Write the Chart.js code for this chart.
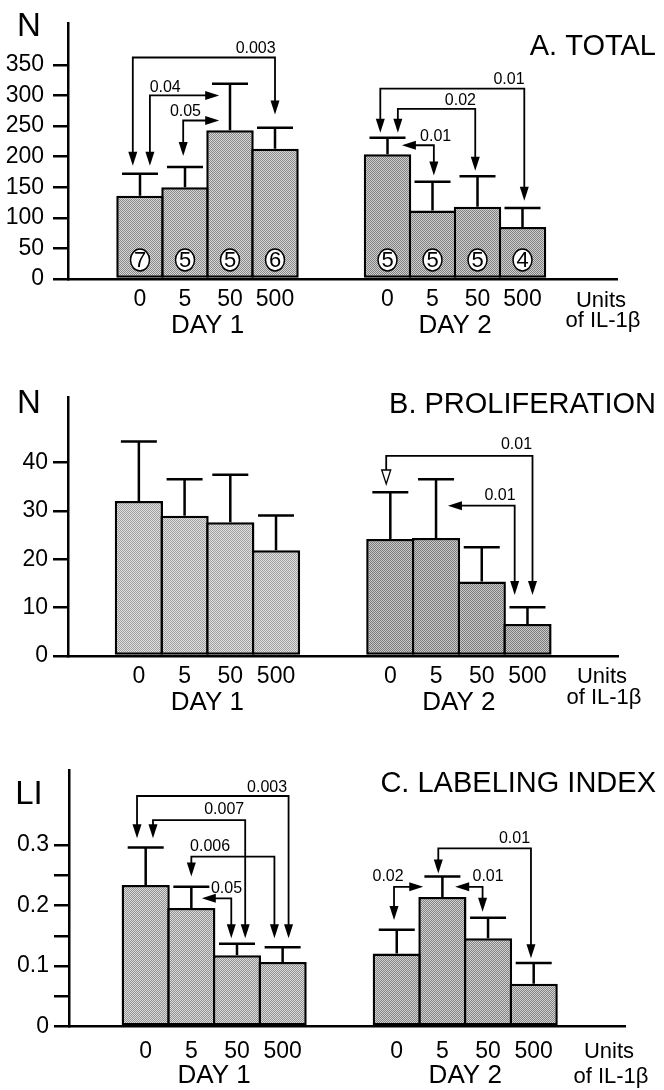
<!DOCTYPE html>
<html>
<head>
<meta charset="utf-8">
<script src="https://cdn.jsdelivr.net/npm/chart.js"></script>
<style>
  html, body { margin: 0; padding: 0; background: #fff; }
  canvas { display: block; }
</style>
</head>
<body>
<canvas id="chartA" width="664" height="340"></canvas>
<canvas id="chartB" width="664" height="375"></canvas>
<canvas id="chartC" width="664" height="375"></canvas>
<script>
// IL-1β dose groups (same for every panel)
const doses = ['0', '5', '50', '500'];
const days  = ['DAY 1', 'DAY 2'];

// A. total cells
const totalDay1    = [136, 150, 243, 213];
const totalDay1Err = [36, 33, 76, 34];
const totalDay2    = [204, 112, 118, 85];
const totalDay2Err = [27, 47, 50, 31];
const totalDay1N   = [7, 5, 5, 6];
const totalDay2N   = [5, 5, 5, 4];
const totalTicks   = [0, 50, 100, 150, 200, 250, 300, 350];

// B. proliferation
const prolDay1    = [32.1, 29.0, 27.7, 21.9];
const prolDay1Err = [12.3, 7.6, 9.8, 7.2];
const prolDay2    = [24.2, 24.4, 15.4, 6.6];
const prolDay2Err = [9.7, 12.2, 7.1, 3.5];
const prolTicks   = [0, 10, 20, 30, 40];

// C. labeling index
const liDay1    = [0.234, 0.196, 0.118, 0.107];
const liDay1Err = [0.062, 0.035, 0.019, 0.024];
const liDay2    = [0.121, 0.214, 0.146, 0.071];
const liDay2Err = [0.039, 0.034, 0.034, 0.034];
const liTicks      = [0, 0.05, 0.1, 0.15, 0.2, 0.25, 0.3];
const liTickLabels = ['0', '', '0.1', '', '0.2', '', '0.3'];

// p-value brackets, in data units (x = group slot, y = axis value)
const totalBrackets = [
  { p: '0.003', at: [2.57, 377],  path: [[-0.16, 185], [-0.16, 362], [3.0, 362], [3.0, 269]] },
  { p: '0.04',  at: [0.56, 313],  path: [[0.22, 185], [0.22, 300], [1.76, 300]] },
  { p: '0.05',  at: [1.01, 273],  path: [[0.96, 201], [0.96, 259], [1.76, 259]] },
  { p: '0.01',  at: [8.2, 326],   path: [[5.34, 239], [5.34, 311], [8.54, 311], [8.54, 128]] },
  { p: '0.02',  at: [7.12, 292],  path: [[5.73, 239], [5.73, 278], [7.45, 278], [7.45, 177]] },
  { p: '0.01',  at: [6.57, 232],  path: [[5.82, 218.6], [6.53, 218.6], [6.53, 169]] }
];
const prolBrackets = [
  { p: '0.01', at: [8.26, 43.7], hollow: true, path: [[5.41, 35.6], [5.41, 41.4], [8.61, 41.4], [8.61, 12.6]] },
  { p: '0.01', at: [7.9, 33.1],  path: [[6.76, 31.1], [8.22, 31.1], [8.22, 12.6]] }
];
const liBrackets = [
  { p: '0.003', at: [2.66, 0.395],  path: [[-0.19, 0.311], [-0.19, 0.381], [3.13, 0.381], [3.13, 0.146]] },
  { p: '0.007', at: [1.72, 0.358],  path: [[0.16, 0.311], [0.16, 0.341], [2.18, 0.341], [2.18, 0.146]] },
  { p: '0.006', at: [1.41, 0.297],  path: [[1.0, 0.248], [1.0, 0.281], [2.82, 0.281], [2.82, 0.146]] },
  { p: '0.05',  at: [1.77, 0.2285], path: [[1.23, 0.212], [1.875, 0.212], [1.875, 0.146]] },
  { p: '0.01',  at: [8.08, 0.311],  path: [[6.41, 0.253], [6.41, 0.2945], [8.44, 0.2945], [8.44, 0.113]] },
  { p: '0.02',  at: [5.31, 0.2477], path: [[5.44, 0.176], [5.44, 0.231], [6.08, 0.231]] },
  { p: '0.01',  at: [7.5, 0.2477],  path: [[6.78, 0.231], [7.38, 0.231], [7.38, 0.19]] }
];

// slot of each bar on the x axis: day 1 groups, a gap, day 2 groups
const slots = [0, 1, 2, 3, 5.5, 6.5, 7.5, 8.5];
const FONT = '"Liberation Sans", Arial, Helvetica, sans-serif';

Chart.defaults.font.family = FONT;
Chart.defaults.color = '#000';

function stipple(base, dot) {
  const c = document.createElement('canvas');
  c.width = 2; c.height = 2;
  const g = c.getContext('2d');
  g.fillStyle = base; g.fillRect(0, 0, 2, 2);
  g.fillStyle = dot;  g.fillRect(0, 0, 1, 1); g.fillRect(1, 1, 1, 1);
  return g.createPattern(c, 'repeat');
}

function arrowHead(ctx, from, tip, hollow) {
  const a = Math.atan2(tip[1] - from[1], tip[0] - from[0]);
  const L = 14, W = 4.5;
  const bx = tip[0] - L * Math.cos(a), by = tip[1] - L * Math.sin(a);
  ctx.beginPath();
  ctx.moveTo(tip[0], tip[1]);
  ctx.lineTo(bx + W * Math.sin(a), by - W * Math.cos(a));
  ctx.lineTo(bx - W * Math.sin(a), by + W * Math.cos(a));
  ctx.closePath();
  if (hollow) {
    ctx.fillStyle = '#fff'; ctx.fill();
    ctx.lineWidth = 1.3; ctx.stroke();
  } else {
    ctx.fillStyle = '#000'; ctx.fill();
  }
}

function makePanel(p) {
  const means = p.day1.concat(p.day2);
  const errs  = p.err1.concat(p.err2);

  const extras = {
    id: 'extras',
    afterDatasetsDraw(chart) {
      const { ctx, scales: { x, y } } = chart;
      ctx.save();
      ctx.strokeStyle = '#000';
      ctx.lineCap = 'butt';

      // error bars (upper only)
      ctx.lineWidth = 2.5;
      means.forEach((m, i) => {
        const px = x.getPixelForValue(slots[i]);
        const y0 = y.getPixelForValue(m);
        const y1 = y.getPixelForValue(m + errs[i]);
        ctx.beginPath();
        ctx.moveTo(px, y0); ctx.lineTo(px, y1);
        ctx.moveTo(px - 18, y1); ctx.lineTo(px + 18, y1);
        ctx.stroke();
      });

      // n per group, circled inside the bars
      if (p.counts) {
        ctx.font = '22px ' + FONT;
        ctx.textAlign = 'center';
        ctx.textBaseline = 'middle';
        p.counts.forEach((n, i) => {
          const px = x.getPixelForValue(slots[i]);
          const py = y.bottom - 19;
          ctx.beginPath();
          ctx.ellipse(px, py, 9.5, 11, 0, 0, Math.PI * 2);
          ctx.fillStyle = '#fff'; ctx.fill();
          ctx.lineWidth = 1.5; ctx.stroke();
          ctx.fillStyle = '#000';
          ctx.fillText(String(n), px, py + 1);
        });
      }

      // significance brackets
      p.brackets.forEach(b => {
        const pts = b.path.map(([vx, vy]) => [x.getPixelForValue(vx), y.getPixelForValue(vy)]);
        const n = pts.length;
        const trim = (a, t) => {
          const d = Math.hypot(t[0] - a[0], t[1] - a[1]);
          const k = Math.max(0, (d - 10) / d);
          return [a[0] + (t[0] - a[0]) * k, a[1] + (t[1] - a[1]) * k];
        };
        const s = trim(pts[1], pts[0]);
        const e = trim(pts[n - 2], pts[n - 1]);
        ctx.lineWidth = 1.8;
        ctx.beginPath();
        ctx.moveTo(s[0], s[1]);
        for (let i = 1; i < n - 1; i++) ctx.lineTo(pts[i][0], pts[i][1]);
        ctx.lineTo(e[0], e[1]);
        ctx.stroke();
        arrowHead(ctx, pts[1], pts[0], b.hollow);
        arrowHead(ctx, pts[n - 2], pts[n - 1], false);

        ctx.fillStyle = '#000';
        ctx.font = '16px ' + FONT;
        ctx.textAlign = 'center';
        ctx.textBaseline = 'middle';
        ctx.fillText(b.p, x.getPixelForValue(b.at[0]), y.getPixelForValue(b.at[1]));
      });
      ctx.restore();
    },
    afterDraw(chart) {
      const { ctx, scales: { x } } = chart;
      ctx.save();
      ctx.fillStyle = '#000';
      ctx.textBaseline = 'middle';

      ctx.textAlign = 'right';
      ctx.font = '29px ' + FONT;
      ctx.fillText(p.title, 656, p.titleY);

      ctx.textAlign = 'center';
      ctx.font = '33px ' + FONT;
      ctx.fillText(p.yName, 29, p.yNameY);

      ctx.font = '26px ' + FONT;
      ctx.fillText(days[0], x.getPixelForValue(1.5), p.dayY);
      ctx.fillText(days[1], x.getPixelForValue(7.0), p.dayY);

      ctx.font = '22px ' + FONT;
      ctx.fillText('Units', x.right - 16, p.unitsY);
      ctx.fillText('of IL-1β', x.right - 14, p.ofY);
      ctx.restore();
    }
  };

  return new Chart(document.getElementById(p.id), {
    type: 'bar',
    data: {
      datasets: [{
        data: means.map((m, i) => ({ x: slots[i], y: m })),
        backgroundColor: slots.map((s, i) => i < 4 ? p.fill1 : p.fill2),
        borderColor: '#000',
        borderWidth: 2.5,
        borderSkipped: false,
        barPercentage: 1,
        categoryPercentage: 1.055
      }]
    },
    options: {
      responsive: false,
      animation: false,
      events: [],
      layout: { padding: { top: p.top, right: p.right, bottom: 0, left: 0 } },
      plugins: { legend: { display: false }, tooltip: { enabled: false } },
      scales: {
        x: {
          type: 'linear',
          offset: false,
          min: p.xMin,
          max: p.xMax,
          afterBuildTicks: s => { s.ticks = slots.map(v => ({ value: v })); },
          afterFit: s => { s.height = p.below; },
          grid: { display: false, drawTicks: false },
          border: { display: true, color: '#000', width: 2.5 },
          ticks: {
            autoSkip: false,
            maxRotation: 0,
            padding: p.xPad,
            font: { size: 23 },
            callback: (v, i) => doses[i % 4]
          }
        },
        y: {
          min: 0,
          max: p.yMax,
          afterBuildTicks: s => { s.ticks = p.ticks.map(v => ({ value: v })); },
          afterFit: s => { s.width = p.axisX; },
          grid: { drawOnChartArea: false, color: '#000', lineWidth: 2.5, tickLength: 15 },
          border: { display: true, color: '#000', width: 2.5 },
          ticks: {
            padding: p.yPad,
            font: { size: 23 },
            callback: (v, i) => p.tickLabels ? p.tickLabels[i] : String(v)
          }
        }
      }
    },
    plugins: [extras]
  });
}

makePanel({
  id: 'chartA', title: 'A. TOTAL', titleY: 47, yName: 'N', yNameY: 27,
  dayY: 326, unitsY: 301, ofY: 321,
  day1: totalDay1, err1: totalDay1Err, day2: totalDay2, err2: totalDay2Err,
  counts: totalDay1N.concat(totalDay2N),
  ticks: totalTicks, yMax: 418.7, xMin: -1.6, xMax: 10.6,
  top: 21, right: 47, below: 61, axisX: 68, xPad: 7, yPad: 9,
  brackets: totalBrackets,
  fill1: stipple('#d6d6d6', '#8a8a8a'), fill2: stipple('#cfcfcf', '#808080')
});

makePanel({
  id: 'chartB', title: 'B. PROLIFERATION', titleY: 65, yName: 'N', yNameY: 64,
  dayY: 363, unitsY: 337, ofY: 358,
  day1: prolDay1, err1: prolDay1Err, day2: prolDay2, err2: prolDay2Err,
  ticks: prolTicks, yMax: 53.6, xMin: -1.55, xMax: 10.48,
  top: 57, right: 46, below: 59, axisX: 68, xPad: 7, yPad: 5,
  brackets: prolBrackets,
  fill1: stipple('#e0e0e0', '#a0a0a0'), fill2: stipple('#cacaca', '#7a7a7a')
});

makePanel({
  id: 'chartC', title: 'C. LABELING INDEX', titleY: 69, yName: 'LI', yNameY: 80,
  dayY: 361, unitsY: 337, ofY: 362,
  day1: liDay1, err1: liDay1Err, day2: liDay2, err2: liDay2Err,
  ticks: liTicks, tickLabels: liTickLabels, yMax: 0.4239, xMin: -1.68, xMax: 10.5,
  top: 55, right: 39, below: 63.3, axisX: 69, xPad: 11, yPad: 5,
  brackets: liBrackets,
  fill1: stipple('#dadada', '#929292'), fill2: stipple('#d0d0d0', '#848484')
});
</script>
</body>
</html>
